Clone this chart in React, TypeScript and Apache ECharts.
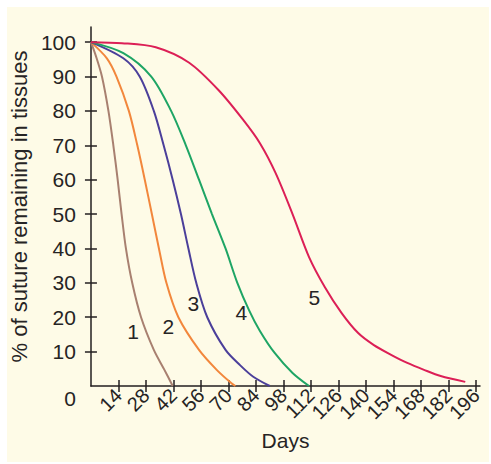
import React, { useEffect, useRef } from "react";
import * as echarts from "echarts";

// ---- data ----
const xTickValues = [14, 28, 42, 56, 70, 84, 98, 112, 126, 140, 154, 168, 182, 196];
const xLabelValues = [0, 14, 28, 42, 56, 70, 84, 98, 112, 126, 140, 154, 168, 182, 196, 198];
const yLabelValues = [0, 10, 20, 30, 40, 50, 60, 70, 80, 90, 100];
const yTickValues = [10, 20, 30, 40, 50, 60, 70, 80, 90, 100];

const days1 = [0, 2.5, 5.6, 8.9, 11.4, 13.6, 15.6, 17.8, 21, 25.5, 32, 37.4, 41.6];
const vals1 = [100, 96, 90, 80, 70, 60, 50, 40, 30, 20, 10.5, 4.7, 0];

const days2 = [0, 8.1, 13, 19.3, 23.6, 27.4, 31, 34.6, 38.4, 44.5, 55, 64, 71.5, 73.5];
const vals2 = [100, 95.3, 90, 80, 70, 60, 50, 40, 30, 20, 10.5, 4.7, 0.8, 0];

const days3 = [0, 16.5, 24.8, 32, 37, 41.6, 45.8, 49.6, 53.6, 59.2, 68.5, 76, 82.6, 91];
const vals3 = [100, 95.3, 90, 80, 70, 60, 50, 40, 30, 20, 10.5, 6, 2.7, 0];

const days4 = [0, 16.5, 30.7, 40.8, 48.3, 55, 61.6, 68.5, 74.5, 80.5, 86, 93.5, 102.6, 111];
const vals4 = [100, 96.8, 90, 80, 70, 60, 50, 40, 30, 22, 16, 9.6, 3.8, 0];

const days5 = [0, 15.8, 33, 50, 65, 77.6, 86, 94, 102.6, 111, 119, 127.6, 136, 144, 153, 161, 169.5, 178, 190.5];
const vals5 = [100, 99.7, 98.5, 94, 86, 77.3, 70.6, 61.9, 50, 37.5, 28.8, 21.2, 15.4, 11.9, 9, 6.7, 4.7, 2.9, 1.2];

const curveNames = ["1", "2", "3", "4", "5"];
const labelDays = [21.5, 39.4, 52.1, 76.6, 113.7];
const labelVals = [15.8, 17.4, 24, 21.5, 25.6];

const colors = ["#a88070", "#f2873c", "#4b3f9a", "#1ea565", "#dc1f56"];

const TEXT = "#262424";
const FONT = "'Liberation Sans', Arial, Helvetica, sans-serif";

const curves = [
  [days1, vals1],
  [days2, vals2],
  [days3, vals3],
  [days4, vals4],
  [days5, vals5],
];

export default function App() {
  const ref = useRef<HTMLDivElement>(null);
  useEffect(() => {
    if (!ref.current) return;
    const chart = echarts.init(ref.current, undefined, { renderer: "svg" });
    const series = curves.map(([d, v], i) => ({
      type: "line",
      name: curveNames[i],
      data: d.map((x, k) => [x, v[k]]),
      showSymbol: false,
      smooth: 0.3,
      lineStyle: { color: colors[i], width: 2 },
      z: 5,
      markPoint: {
        symbol: "circle",
        symbolSize: 0,
        label: {
          show: true,
          formatter: curveNames[i],
          color: TEXT,
          fontSize: 21,
          fontFamily: FONT,
        },
        data: [{ coord: [labelDays[i], labelVals[i]] }],
      },
    }));
    const axisColor = "#231f20";
    chart.setOption({
      animation: false,
      backgroundColor: "#ffffff",
      graphic: [
        {
          type: "rect",
          z: -100,
          shape: { x: 7, y: 7, width: 482, height: 455 },
          style: { fill: "#fefbe7" },
        },
      ],
      grid: { left: 85.5, right: 11, top: 27, bottom: 78 },
      xAxis: [
        {
          type: "value",
          position: "bottom",
          min: 0,
          max: 198,
          axisLine: { show: true, onZero: false, lineStyle: { color: axisColor, width: 1.5 } },
          axisTick: { show: true, customValues: xTickValues, length: 6, lineStyle: { color: axisColor, width: 1.5 } },
          axisLabel: {
            customValues: xLabelValues,
            formatter: (v: number) => (xTickValues.indexOf(v) >= 0 ? String(v) : ""),
            rotate: 45,
            margin: 6,
            fontSize: 20,
            color: TEXT,
            fontFamily: FONT,
            showMinLabel: false,
            showMaxLabel: false,
            hideOverlap: false,
          },
          splitLine: { show: false },
          name: "Days",
          nameLocation: "middle",
          nameGap: 43,
          nameTextStyle: { fontSize: 21, color: TEXT, fontFamily: FONT },
        },
        {
          type: "value",
          position: "bottom",
          min: 0,
          max: 198,
          axisLine: { show: false, onZero: false },
          axisTick: { show: true, inside: true, customValues: xTickValues, length: 6, lineStyle: { color: axisColor, width: 1.5 } },
          axisLabel: { show: false },
          splitLine: { show: false },
        },
      ],
      yAxis: [
        {
          type: "value",
          position: "left",
          min: 0,
          max: 104.4,
          axisLine: { show: true, onZero: false, lineStyle: { color: axisColor, width: 1.5 } },
          axisTick: { show: true, customValues: yTickValues, length: 6, lineStyle: { color: axisColor, width: 1.5 } },
          axisLabel: {
            customValues: yLabelValues,
            margin: 15,
            fontSize: 21,
            color: TEXT,
            fontFamily: FONT,
            showMinLabel: true,
            formatter: (v: number) => (v === 0 ? "{z|0}" : String(v)),
            rich: {
              z: { fontSize: 21, color: TEXT, fontFamily: FONT, padding: [24, 0, 0, 0] },
            },
          },
          splitLine: { show: false },
          name: "% of suture remaining in tissues",
          nameLocation: "middle",
          nameGap: 46,
          nameTextStyle: { fontSize: 22, color: TEXT, fontFamily: FONT },
        },
        {
          type: "value",
          position: "left",
          min: 0,
          max: 104.4,
          axisLine: { show: false, onZero: false },
          axisTick: { show: true, inside: true, customValues: yTickValues, length: 6, lineStyle: { color: axisColor, width: 1.5 } },
          axisLabel: { show: false },
          splitLine: { show: false },
        },
      ],
      series,
    });
    return () => chart.dispose();
  }, []);
  return (
    <div
      ref={ref}
      style={{ position: "fixed", left: 0, top: 0, width: 491, height: 464 }}
    />
  );
}
